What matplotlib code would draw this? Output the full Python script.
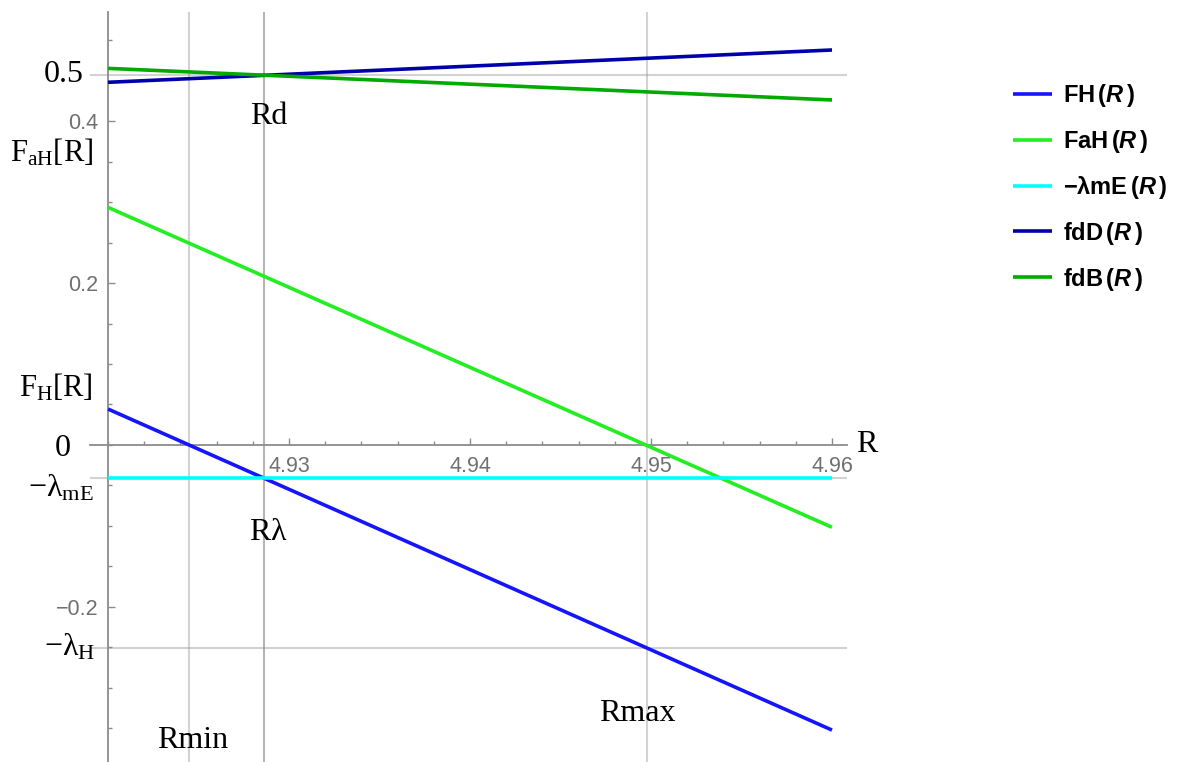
import matplotlib.pyplot as plt
from matplotlib.ticker import FixedLocator, MultipleLocator
from matplotlib.transforms import blended_transform_factory

plt.rcParams['mathtext.fontset'] = 'custom'
plt.rcParams['mathtext.rm'] = 'Liberation Serif'
plt.rcParams['mathtext.it'] = 'Liberation Sans:italic:bold'
plt.rcParams['mathtext.bf'] = 'Liberation Sans:bold'

# end points of the (straight) curves over R
r_vals = [4.92, 4.96]
fh = [0.0444, -0.352]
fah = [0.2934, -0.1016]
lam_me = [-0.0407, -0.0407]
fdd = [0.4478, 0.4877]
fdb = [0.465, 0.426]

series = [fh, fah, lam_me, fdd, fdb]
series_labels = [r'$\mathbf{FH\,(}\mathit{R}\,\mathbf{)}$',
                 r'$\mathbf{FaH\,(}\mathit{R}\,\mathbf{)}$',
                 r'$\mathbf{{-}\lambda mE\,(}\mathit{R}\,\mathbf{)}$',
                 r'$\mathbf{fdD\,(}\mathit{R}\,\mathbf{)}$',
                 r'$\mathbf{fdB\,(}\mathit{R}\,\mathbf{)}$']
series_colors = ['#1414ff', '#22ee22', '#00ffff', '#0000aa', '#00aa00']

# marked R values (vertical grid lines) and their labels
r_marks = [4.92445, 4.9286, 4.9286, 4.9498]
r_mark_labels = ['Rmin', 'Rd', r'R$\mathrm{\lambda}$', 'Rmax']
r_label_y = [-0.3654, 0.405, -0.1086, -0.332]

# marked levels (horizontal grid lines)
y_marks = [0.457, -0.0407, -0.2506]

fig = plt.figure(figsize=(11.84, 7.62), dpi=100)
ax = fig.add_axes([90 / 1184, 0, 757 / 1184, 750 / 762])
ax.set_xlim(4.92 - 18 / 18100, 4.96 + 15 / 18100)
ax.set_ylim(-0.3914, 0.5346)

for xv in r_marks:
    ax.axvline(xv, color='gray', alpha=0.35, lw=1.5, zorder=1)
for yv in y_marks:
    ax.axhline(yv, color='gray', alpha=0.35, lw=1.5, zorder=1)

for vals, lab, col in zip(series, series_labels, series_colors):
    ax.plot(r_vals, vals, color=col, lw=2.6, label=lab, zorder=3, solid_capstyle='butt')

# axes through origin style
for s in ['top', 'right']:
    ax.spines[s].set_visible(False)
ax.spines['left'].set_position(('data', 4.92))
ax.spines['bottom'].set_position(('data', 0))
for s in ['left', 'bottom']:
    ax.spines[s].set_color('#8c8c8c')
    ax.spines[s].set_linewidth(1.3)

ax.xaxis.set_major_locator(FixedLocator([4.93, 4.94, 4.95, 4.96]))
ax.xaxis.set_minor_locator(MultipleLocator(0.002))
ax.yaxis.set_major_locator(FixedLocator([-0.2, 0.2, 0.4]))
ax.yaxis.set_minor_locator(MultipleLocator(0.05))
ax.xaxis.set_major_formatter(lambda v, p: f'{v:.2f}')
ax.yaxis.set_major_formatter(lambda v, p: f'{v:.1f}'.replace('-', '\u2212'))
ax.tick_params(which='both', direction='in', color='#8c8c8c', labelcolor='#707070',
               labelsize=15.5, width=1)
ax.tick_params(which='major', length=5)
ax.tick_params(which='minor', length=3)
ax.tick_params(axis='x', pad=8)
ax.tick_params(axis='y', pad=7)
for t in ax.get_xticklabels() + ax.get_yticklabels():
    t.set_fontfamily('Liberation Sans')

serif = dict(fontsize=23, color='black')
# labels along the vertical axis
y_texts = [('0.5', 0.458, -24, 23), (r'$\mathrm{F_{aH}[R]}$', 0.361, -15, 22),
           (r'$\mathrm{F_{H}[R]}$', 0.071, -15, 22), ('0', -0.004, -37, 23),
           (r'$\mathrm{-\lambda_{mE}}$', -0.053, -14, 23), (r'$\mathrm{-\lambda_{H}}$', -0.25, -13, 23)]
for txt, yv, dx, fs in y_texts:
    ax.annotate(txt, xy=(4.92, yv), xytext=(dx, 0), textcoords='offset pixels',
                ha='right', va='center', family='Liberation Serif', annotation_clip=False,
                fontsize=fs, color='black')

# labels of the marked R values
offsets = [4, 5, 5, -10]
for xv, lab, yv, dx in zip(r_marks, r_mark_labels, r_label_y, offsets):
    ax.annotate(lab, xy=(xv, yv), xytext=(dx, 0), textcoords='offset pixels',
                ha='center', va='center', family='Liberation Serif', **serif)

ax.annotate('R', xy=(1, 0), xycoords=blended_transform_factory(ax.transAxes, ax.transData),
            xytext=(9, 0), textcoords='offset pixels', ha='left', va='center',
            family='Liberation Serif', annotation_clip=False, **serif)

ax.legend(loc='upper left', bbox_to_anchor=(1013 / 1184, 1 - 82 / 762),
          bbox_transform=fig.transFigure, frameon=False, fontsize=17,
          handlelength=1.65, handletextpad=0.47, labelspacing=0.8, borderpad=0,
          borderaxespad=0)

fig.savefig('out.png', dpi=100)
